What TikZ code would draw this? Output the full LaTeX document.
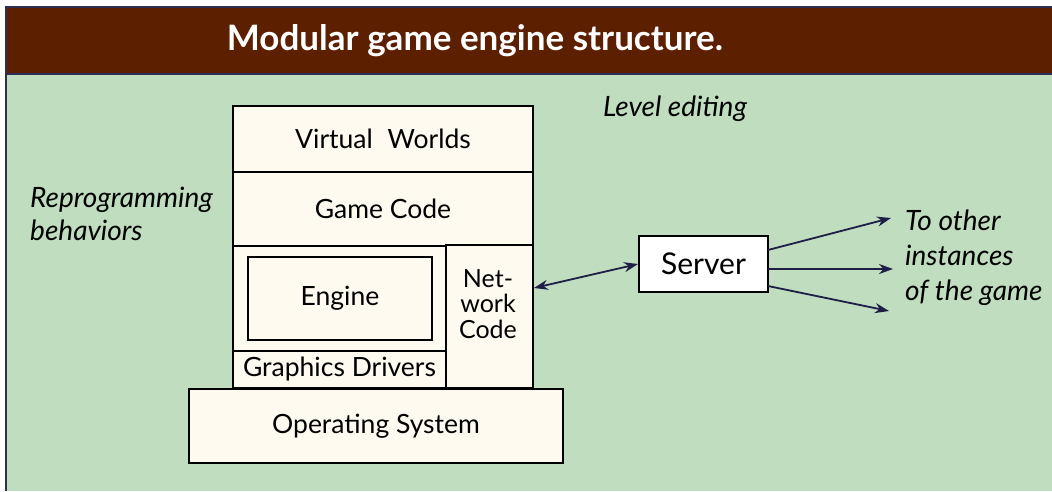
\documentclass[tikz,border=0pt]{standalone}
\usepackage{fontspec}
\setmainfont{Lato}
\usetikzlibrary{arrows.meta}
\definecolor{brownbar}{HTML}{5C1F00}
\definecolor{bggreen}{HTML}{C0DDC0}
\definecolor{cream}{HTML}{FFFAF0}
\definecolor{navy}{HTML}{1E1E46}
\definecolor{frameline}{HTML}{2E2E50}
\begin{document}
\begin{tikzpicture}[x=1pt,y=-1pt,
  layer/.style={draw=black, line width=2pt, fill=cream, anchor=north west, inner sep=0pt},
  lbl/.style={font=\fontsize{26.5}{30}\selectfont, text=black},
  ital/.style={font=\fontsize{28}{33}\selectfont\itshape, text=black, align=left, anchor=west, inner sep=0pt},
  arr/.style={draw=navy, line width=1.8pt, -{Stealth[length=14pt,width=10pt]}},
  darr/.style={draw=navy, line width=1.8pt, {Stealth[length=14pt,width=10pt]}-{Stealth[length=14pt,width=10pt]}}]
\useasboundingbox (0,0) rectangle (1052,491);
\fill[white] (0,0) rectangle (1052,491);
\fill[bggreen] (6,74) rectangle (1052,491);
\fill[brownbar] (6,7) rectangle (1052,74);
\draw[frameline, line width=2pt] (1052,7) -- (6,7) -- (6,491);
\draw[frameline, line width=2pt] (6,74) -- (1052,74);
\node[font=\fontsize{35}{40}\selectfont\bfseries, text=white] (title) at (475,41) {Modular game engine structure.};
% stack
\node[layer, lbl, minimum width=300, minimum height=66] (vw) at (232,105) {Virtual\hspace{0.3em} Worlds};
\node[layer, lbl, minimum width=300, minimum height=74] (gc) at (232,171) {Game Code};
\node[layer, minimum width=213, minimum height=105] (ea) at (232,245) {};
\node[layer, lbl, minimum width=184, minimum height=83] (eng) at (247,256) {Engine};
\node[layer, lbl, minimum width=213, minimum height=37] (gd) at (232,350) {Graphics Drivers};
\node[layer, minimum width=87, minimum height=143] (net) at (445,244) {};
\node[lbl, align=center, font=\fontsize{25}{25.5}\selectfont] (nettxt) at (488,304) {Net-\\work\\Code};
\node[layer, lbl, minimum width=374, minimum height=74] (os) at (188,388) {Operating System};
% server
\node[draw=black, line width=2pt, fill=white, minimum width=129, minimum height=56, lbl, font=\fontsize{30}{34}\selectfont] (srv) at (703.5,264) {Server};
% labels
\node[ital] (lev) at (603,109) {Level editing};
\node[ital] (rep) at (30,214) {Reprogramming\\behaviors};
\node[ital, font=\fontsize{28}{35}\selectfont\itshape] (oth) at (905,258) {To other\\instances\\of the game};
% arrows
\coordinate (n1) at (534,288);
\draw[darr] (n1) -- (srv.west);
\coordinate (s1) at (768,250);
\coordinate (s2) at (768,269);
\coordinate (s3) at (768,286);
\coordinate (t1) at (891,218);
\coordinate (t2) at (893,269);
\coordinate (t3) at (889,311);
\draw[arr] (s1) -- (t1);
\draw[arr] (s2) -- (t2);
\draw[arr] (s3) -- (t3);
\end{tikzpicture}
\end{document}
